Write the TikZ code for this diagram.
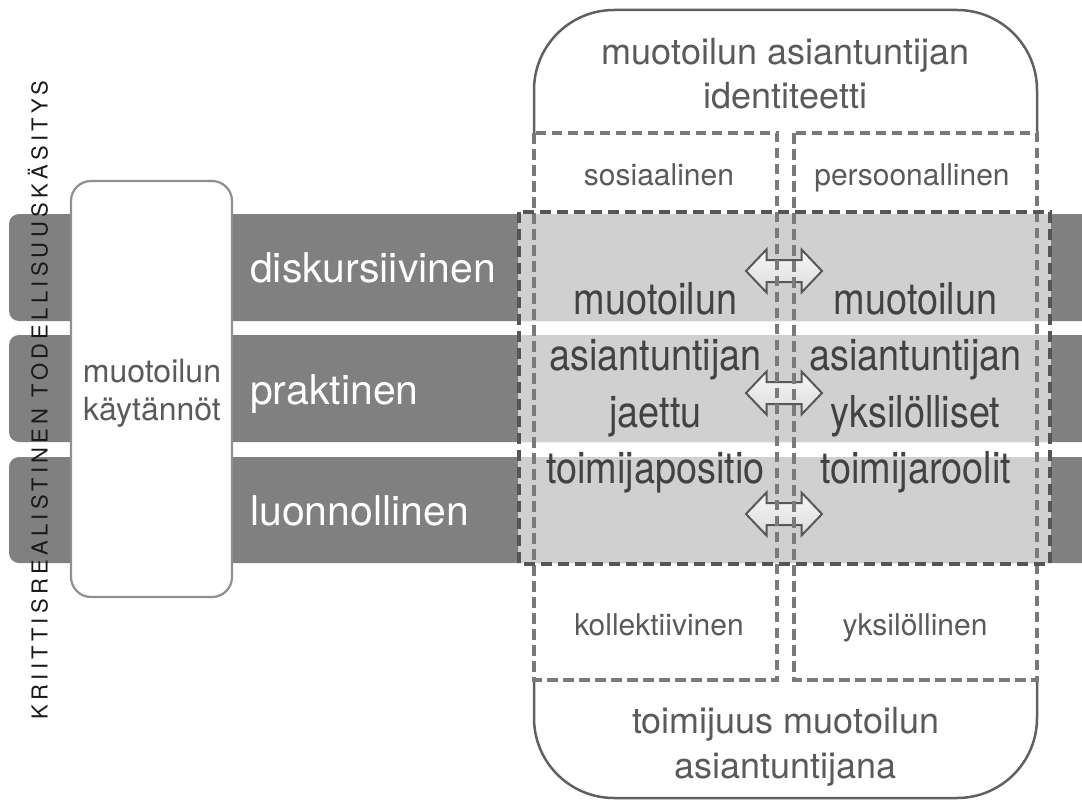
\documentclass[tikz,border=0pt]{standalone}
\usepackage{fontspec}
\setmainfont{TeX Gyre Heros}
\newfontfamily\spacedfont[LetterSpace=19.5]{TeX Gyre Heros}
\definecolor{bandgray}{HTML}{808080}
\definecolor{lightband}{HTML}{D0D0D0}
\definecolor{boxline}{HTML}{8F8F8F}
\definecolor{capline}{HTML}{606060}
\definecolor{labeltext}{HTML}{5A5A5A}
\definecolor{bigtext}{HTML}{424242}
\definecolor{coldash}{HTML}{7A7A7A}
\definecolor{bigdash}{HTML}{555555}
\definecolor{arrowline}{HTML}{585858}
\newcommand\fsz[1]{\fontsize{#1}{#1}\selectfont}
\newcommand\cond[1]{\scalebox{0.86}[1]{#1}}
\tikzset{
  band/.style={fill=bandgray, rounded corners=10},
  lband/.style={fill=lightband},
  bandtext/.style={text=white, font=\fsz{41}, anchor=base west, inner sep=0},
  practbox/.style={fill=white, draw=boxline, line width=2.2, rounded corners=20},
  framecap/.style={draw=capline, line width=2.5, rounded corners=80},
  titletext/.style={text=labeltext, font=\fsz{36}, anchor=base, inner sep=0},
  coltext/.style={text=labeltext, font=\fsz{30}, anchor=base, inner sep=0},
  midtext/.style={text=bigtext, font=\fsz{44}, anchor=base, inner sep=0},
  boxtext/.style={text=labeltext, font=\fsz{32}, anchor=base, inner sep=0},
  coldashed/.style={draw=coldash, line width=4, dash pattern=on 10.5 off 5.5},
  bigdashed/.style={draw=bigdash, line width=4.5, dash pattern=on 11 off 6},
  dblarrow/.style={draw=arrowline, line width=2, top color=white!97!black, bottom color=white!86!black, line join=miter}
}
\begin{document}
\begin{tikzpicture}[x=1pt,y=-1pt]
\useasboundingbox (0,0) rectangle (1082,800);
% dark bands
\fill[band] (9,214) rectangle (1110,321);
\fill[band] (9,335) rectangle (1110,442);
\fill[band] (9,457) rectangle (1110,563);
% light parts of bands
\fill[lband] (518,214) rectangle (1051,321);
\fill[lband] (518,335) rectangle (1051,442);
\fill[lband] (518,457) rectangle (1051,563);
% practices box
\path[practbox] (71,181) rectangle (232,597);
\node[boxtext] (bx1) at (152,382) {muotoilun};
\node[boxtext] (bx2) at (152,420) {käytännöt};
% band labels
\node[bandtext] (b1) at (250,282) {diskursiivinen};
\node[bandtext] (b2) at (250,404) {praktinen};
\node[bandtext] (b3) at (250,525) {luonnollinen};
% caps of the large rounded frame
\draw[framecap] (534,133) -- (534,10) -- (1037,10) -- (1037,133);
\draw[framecap] (534,680) -- (534,798) -- (1037,798) -- (1037,680);
% double arrows
\foreach \yy in {271,393,514}{
  \path[dblarrow] (746,\yy) -- (766.5,\yy-21.5) -- (766.5,\yy-11) -- (801.5,\yy-11) -- (801.5,\yy-21.5)
    -- (822,\yy) -- (801.5,\yy+21.5) -- (801.5,\yy+11) -- (766.5,\yy+11) -- (766.5,\yy+21.5) -- cycle;
}
% dashed columns
\draw[coldashed] (534,133) rectangle (777,680);
\draw[coldashed] (794,133) rectangle (1037,680);
% big dashed frame
\draw[bigdashed] (519,212) rectangle (1050,564);
% titles
\node[titletext] (t1) at (785.5,65) {muotoilun asiantuntijan};
\node[titletext] (t2) at (785.5,108) {identiteetti};
\node[titletext] (t3) at (785.5,733) {toimijuus muotoilun};
\node[titletext] (t4) at (785.5,778) {asiantuntijana};
% column labels
\node[coltext] (c1) at (659,185) {sosiaalinen};
\node[coltext] (c2) at (912,185) {persoonallinen};
\node[coltext] (c3) at (659,635) {kollektiivinen};
\node[coltext] (c4) at (915,635) {yksilöllinen};
% central texts
\node[midtext] (l1) at (655.5,314) {\cond{muotoilun}};
\node[midtext] (l2) at (655.5,370) {\cond{asiantuntijan}};
\node[midtext] (l3) at (655.5,427) {\cond{jaettu}};
\node[midtext] (l4) at (655.5,483) {\cond{toimijapositio}};
\node[midtext] (r1) at (915.5,314) {\cond{muotoilun}};
\node[midtext] (r2) at (915.5,370) {\cond{asiantuntijan}};
\node[midtext] (r3) at (915.5,427) {\cond{yksilölliset}};
\node[midtext] (r4) at (915.5,483) {\cond{toimijaroolit}};
% vertical text
\node[rotate=90, inner sep=0, text=black!90, font=\spacedfont\fsz{22}] (vt) at (38,400) {KRIITTISREALISTINEN TODELLISUUSKÄSITYS};
\end{tikzpicture}
\end{document}
